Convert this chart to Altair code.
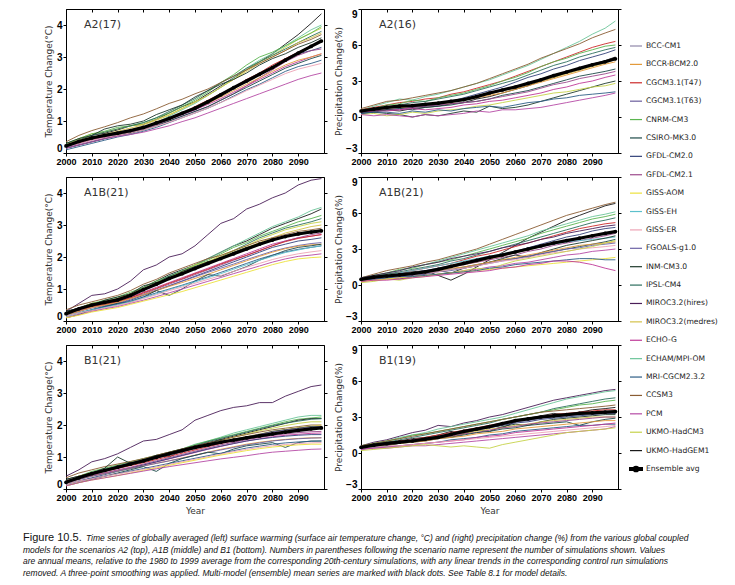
import altair as alt
import pandas as pd

YEARS = [2000, 2005, 2010, 2015, 2020, 2025, 2030, 2035, 2040, 2045, 2050,
         2055, 2060, 2065, 2070, 2075, 2080, 2085, 2090, 2095, 2099]

MODELS = ["BCC-CM1", "BCCR-BCM2.0", "CGCM3.1(T47)", "CGCM3.1(T63)", "CNRM-CM3",
          "CSIRO-MK3.0", "GFDL-CM2.0", "GFDL-CM2.1", "GISS-AOM", "GISS-EH",
          "GISS-ER", "FGOALS-g1.0", "INM-CM3.0", "IPSL-CM4", "MIROC3.2(hires)",
          "MIROC3.2(medres)", "ECHO-G", "ECHAM/MPI-OM", "MRI-CGCM2.3.2", "CCSM3",
          "PCM", "UKMO-HadCM3", "UKMO-HadGEM1"]
MODEL_COLORS = ["#8f86a8", "#e39a3b", "#cc2a2a", "#6a5c9c", "#5bb550",
                "#1d4a48", "#33427a", "#9c4a8c", "#ece13c", "#5cc0cc",
                "#eda3b5", "#6c62a6", "#1e3a2c", "#2c6e5e", "#4a1e58",
                "#d4c24a", "#bf3a98", "#6cc59a", "#2e5e86", "#8a5c33",
                "#b54aa5", "#c6d24a", "#1a1a1a"]
ENSEMBLE_LABEL = "Ensemble avg"

X_TICKS = [2000, 2010, 2020, 2030, 2040, 2050, 2060, 2070, 2080, 2090]
TEMP_TICKS = [0, 1, 2, 3, 4]
PREC_TICKS = [-3, 0, 3, 6, 9]

# ---------------- A2 temperature (17) ----------------
A2_TEMP_ENS = [0.22, 0.36, 0.47, 0.55, 0.62, 0.70, 0.80, 0.94, 1.08, 1.24, 1.40,
               1.60, 1.82, 2.04, 2.25, 2.46, 2.67, 2.90, 3.12, 3.33, 3.50]
A2_TEMP = {
    "UKMO-HadGEM1": [0.30, 0.40, 0.55, 0.62, 0.72, 0.85, 0.90, 1.05, 1.25, 1.45, 1.60, 1.85, 2.10, 2.35, 2.60, 2.85, 3.10, 3.40, 3.70, 4.05, 4.35],
    "UKMO-HadCM3": [0.25, 0.45, 0.60, 0.65, 0.75, 0.85, 0.90, 1.05, 1.20, 1.40, 1.60, 1.80, 2.05, 2.30, 2.60, 2.85, 3.05, 3.30, 3.55, 3.75, 3.90],
    "ECHAM/MPI-OM": [0.20, 0.35, 0.45, 0.50, 0.60, 0.70, 0.80, 0.95, 1.15, 1.35, 1.55, 1.80, 2.05, 2.35, 2.65, 2.90, 3.10, 3.35, 3.60, 3.85, 4.00],
    "CNRM-CM3": [0.30, 0.45, 0.60, 0.68, 0.80, 0.85, 0.95, 1.10, 1.25, 1.45, 1.65, 1.90, 2.20, 2.45, 2.75, 3.00, 3.15, 3.35, 3.55, 3.75, 3.95],
    "IPSL-CM4": [0.25, 0.40, 0.55, 0.65, 0.75, 0.85, 0.95, 1.10, 1.30, 1.50, 1.70, 1.95, 2.20, 2.40, 2.65, 2.85, 3.05, 3.25, 3.45, 3.65, 3.80],
    "MIROC3.2(medres)": [0.25, 0.40, 0.50, 0.58, 0.68, 0.78, 0.88, 1.02, 1.18, 1.38, 1.58, 1.80, 2.05, 2.30, 2.55, 2.80, 3.00, 3.20, 3.45, 3.60, 3.75],
    "CCSM3": [0.35, 0.55, 0.70, 0.82, 0.95, 1.10, 1.22, 1.38, 1.55, 1.68, 1.85, 2.00, 2.20, 2.40, 2.60, 2.80, 3.00, 3.20, 3.40, 3.55, 3.70],
    "INM-CM3.0": [0.30, 0.45, 0.55, 0.75, 0.85, 0.90, 1.00, 1.20, 1.35, 1.50, 1.75, 1.95, 2.15, 2.30, 2.50, 2.75, 2.95, 3.10, 3.30, 3.45, 3.60],
    "CGCM3.1(T47)": [0.25, 0.35, 0.45, 0.55, 0.62, 0.72, 0.80, 0.95, 1.05, 1.25, 1.45, 1.65, 1.85, 2.05, 2.30, 2.50, 2.75, 2.95, 3.15, 3.35, 3.50],
    "GFDL-CM2.0": [0.15, 0.25, 0.35, 0.45, 0.55, 0.65, 0.75, 0.90, 1.05, 1.20, 1.35, 1.55, 1.80, 2.00, 2.25, 2.45, 2.65, 2.90, 3.10, 3.20, 3.30],
    "GFDL-CM2.1": [0.20, 0.30, 0.40, 0.50, 0.55, 0.62, 0.75, 0.88, 1.00, 1.15, 1.30, 1.45, 1.65, 1.85, 2.10, 2.35, 2.60, 2.85, 3.05, 3.20, 3.25],
    "ECHO-G": [0.20, 0.30, 0.42, 0.50, 0.60, 0.68, 0.78, 0.90, 1.05, 1.20, 1.35, 1.52, 1.70, 1.90, 2.10, 2.30, 2.50, 2.70, 2.85, 3.00, 3.10],
    "CSIRO-MK3.0": [0.15, 0.25, 0.35, 0.45, 0.55, 0.62, 0.72, 0.85, 1.00, 1.15, 1.30, 1.45, 1.65, 1.85, 2.05, 2.25, 2.45, 2.65, 2.80, 2.95, 3.05],
    "BCCR-BCM2.0": [0.20, 0.35, 0.45, 0.55, 0.62, 0.70, 0.80, 0.95, 1.10, 1.25, 1.40, 1.55, 1.75, 1.95, 2.15, 2.35, 2.55, 2.75, 2.90, 3.00, 3.10],
    "MRI-CGCM2.3.2": [0.10, 0.20, 0.30, 0.40, 0.50, 0.58, 0.68, 0.80, 0.95, 1.10, 1.25, 1.40, 1.58, 1.78, 1.98, 2.15, 2.35, 2.55, 2.70, 2.80, 2.90],
    "GISS-ER": [0.20, 0.30, 0.40, 0.48, 0.55, 0.63, 0.72, 0.84, 0.96, 1.10, 1.25, 1.40, 1.58, 1.75, 1.95, 2.12, 2.30, 2.48, 2.62, 2.72, 2.80],
    "PCM": [0.15, 0.25, 0.35, 0.45, 0.52, 0.58, 0.65, 0.75, 0.85, 0.98, 1.10, 1.25, 1.40, 1.55, 1.70, 1.85, 2.00, 2.15, 2.30, 2.42, 2.50],
}

# ---------------- A2 precipitation (16) ----------------
A2_PREC_ENS = [0.5, 0.65, 0.8, 0.9, 0.95, 1.05, 1.15, 1.3, 1.45, 1.7, 2.0,
               2.25, 2.5, 2.8, 3.1, 3.45, 3.75, 4.05, 4.35, 4.6, 4.85]
A2_PREC = {
    "ECHAM/MPI-OM": [0.6, 0.9, 1.2, 1.5, 1.4, 1.7, 1.9, 2.2, 2.5, 2.8, 3.1, 3.5, 3.9, 4.3, 4.8, 5.3, 5.8, 6.3, 6.9, 7.4, 8.0],
    "CCSM3": [0.7, 1.0, 1.3, 1.4, 1.6, 1.8, 2.0, 2.2, 2.5, 2.8, 3.2, 3.6, 4.0, 4.4, 4.9, 5.3, 5.7, 6.1, 6.6, 7.0, 7.3],
    "CGCM3.1(T47)": [0.6, 0.8, 1.0, 1.2, 1.3, 1.5, 1.6, 1.9, 2.1, 2.4, 2.7, 3.0, 3.4, 3.8, 4.2, 4.6, 5.0, 5.4, 5.8, 6.1, 6.3],
    "CNRM-CM3": [0.5, 0.7, 1.0, 1.1, 1.4, 1.3, 1.6, 1.8, 2.0, 2.3, 2.6, 3.0, 3.3, 3.7, 4.2, 4.6, 4.9, 5.3, 5.6, 5.9, 6.0],
    "IPSL-CM4": [0.4, 0.6, 0.8, 1.0, 1.2, 1.3, 1.5, 1.7, 1.9, 2.2, 2.5, 2.8, 3.1, 3.5, 3.9, 4.3, 4.6, 5.0, 5.3, 5.6, 5.8],
    "GFDL-CM2.0": [0.3, 0.5, 0.6, 0.7, 0.8, 0.9, 1.0, 1.3, 1.6, 1.9, 2.2, 2.5, 2.9, 3.3, 3.6, 4.0, 4.3, 4.7, 5.0, 5.3, 5.6],
    "UKMO-HadGEM1": [0.4, 0.5, 0.6, 0.5, 0.7, 0.8, 0.9, 1.1, 1.2, 1.5, 1.7, 2.0, 2.3, 2.6, 3.0, 3.3, 3.7, 4.1, 4.4, 4.7, 5.0],
    "MIROC3.2(medres)": [0.5, 0.6, 0.7, 0.8, 0.9, 1.0, 1.1, 1.3, 1.5, 1.7, 1.9, 2.2, 2.4, 2.7, 3.0, 3.3, 3.6, 3.9, 4.2, 4.5, 4.8],
    "BCCR-BCM2.0": [0.6, 0.7, 0.8, 0.8, 0.9, 1.0, 1.1, 1.2, 1.4, 1.6, 1.8, 2.0, 2.3, 2.6, 2.9, 3.2, 3.5, 3.8, 4.1, 4.4, 4.6],
    "CSIRO-MK3.0": [0.3, 0.4, 0.6, 0.7, 0.6, 0.8, 0.9, 1.0, 1.2, 1.3, 1.5, 1.8, 2.0, 2.2, 2.5, 2.8, 3.1, 3.4, 3.6, 3.8, 4.0],
    "GFDL-CM2.1": [0.5, 0.6, 0.7, 0.6, 0.8, 0.9, 1.0, 1.1, 1.2, 1.3, 1.5, 1.7, 1.9, 2.1, 2.4, 2.7, 2.9, 3.2, 3.4, 3.6, 3.8],
    "ECHO-G": [0.4, 0.5, 0.5, 0.6, 0.7, 0.6, 0.7, 0.8, 1.0, 1.1, 1.3, 1.4, 1.6, 1.8, 2.0, 2.3, 2.5, 2.8, 3.0, 3.3, 3.5],
    "INM-CM3.0": [0.3, 0.4, 0.3, 0.2, 0.0, 0.2, 0.1, 0.3, 0.5, 0.4, 0.9, 0.7, 0.8, 1.0, 1.3, 1.6, 1.9, 2.2, 2.5, 2.8, 3.0],
    "UKMO-HadCM3": [0.2, 0.3, 0.1, 0.2, 0.4, 0.3, 0.5, 0.6, 0.7, 0.9, 1.0, 1.2, 1.4, 1.6, 1.8, 2.0, 2.1, 2.3, 2.5, 2.6, 2.8],
    "MRI-CGCM2.3.2": [0.3, 0.4, 0.4, 0.3, 0.5, 0.4, 0.6, 0.5, 0.7, 0.8, 0.9, 0.8, 1.0, 1.2, 1.3, 1.5, 1.6, 1.8, 1.9, 2.0, 2.1],
    "PCM": [0.2, 0.1, 0.2, 0.1, 0.0, 0.2, 0.1, 0.2, 0.3, 0.5, 0.4, 0.6, 0.6, 0.7, 0.8, 1.0, 1.2, 1.4, 1.6, 1.8, 2.0],
}

# ---------------- A1B temperature (21) ----------------
A1B_TEMP_ENS = [0.23, 0.38, 0.50, 0.58, 0.66, 0.80, 0.98, 1.15, 1.33, 1.48, 1.64,
                1.80, 1.95, 2.10, 2.25, 2.40, 2.53, 2.64, 2.72, 2.78, 2.82]
A1B_TEMP = {
    "MIROC3.2(hires)": [0.30, 0.55, 0.80, 0.85, 1.00, 1.25, 1.60, 1.75, 2.00, 2.10, 2.35, 2.70, 3.05, 3.20, 3.50, 3.65, 3.85, 4.00, 4.25, 4.40, 4.45],
    "UKMO-HadGEM1": [0.30, 0.40, 0.55, 0.60, 0.70, 0.85, 1.05, 1.25, 1.45, 1.60, 1.75, 1.95, 2.15, 2.35, 2.50, 2.70, 2.90, 3.05, 3.20, 3.35, 3.50],
    "ECHAM/MPI-OM": [0.20, 0.30, 0.45, 0.55, 0.65, 0.80, 1.00, 1.20, 1.40, 1.58, 1.75, 1.95, 2.15, 2.35, 2.55, 2.75, 2.95, 3.10, 3.25, 3.45, 3.55],
    "CNRM-CM3": [0.25, 0.40, 0.55, 0.65, 0.75, 0.90, 1.05, 1.25, 1.40, 1.55, 1.75, 1.90, 2.10, 2.30, 2.45, 2.65, 2.80, 2.95, 3.10, 3.20, 3.30],
    "IPSL-CM4": [0.25, 0.35, 0.50, 0.60, 0.70, 0.85, 1.00, 1.20, 1.40, 1.55, 1.70, 1.85, 2.00, 2.20, 2.40, 2.60, 2.75, 2.90, 3.00, 3.10, 3.20],
    "UKMO-HadCM3": [0.20, 0.40, 0.55, 0.60, 0.70, 0.85, 1.00, 1.15, 1.35, 1.55, 1.75, 1.85, 2.05, 2.20, 2.35, 2.55, 2.70, 2.85, 2.95, 3.05, 3.10],
    "MIROC3.2(medres)": [0.25, 0.40, 0.50, 0.60, 0.70, 0.85, 1.00, 1.20, 1.35, 1.50, 1.65, 1.85, 2.00, 2.15, 2.30, 2.45, 2.60, 2.75, 2.85, 2.95, 3.00],
    "CCSM3": [0.35, 0.50, 0.60, 0.70, 0.80, 0.95, 1.15, 1.30, 1.50, 1.65, 1.80, 1.95, 2.05, 2.20, 2.35, 2.50, 2.60, 2.70, 2.80, 2.85, 2.90],
    "INM-CM3.0": [0.30, 0.40, 0.50, 0.65, 0.75, 0.85, 1.10, 1.20, 1.30, 1.55, 1.70, 1.85, 1.95, 2.15, 2.30, 2.40, 2.55, 2.65, 2.75, 2.80, 2.85],
    "ECHO-G": [0.20, 0.35, 0.45, 0.55, 0.62, 0.75, 0.90, 1.05, 1.20, 1.35, 1.50, 1.65, 1.80, 1.95, 2.10, 2.25, 2.40, 2.50, 2.60, 2.65, 2.70],
    "GFDL-CM2.1": [0.20, 0.30, 0.45, 0.50, 0.60, 0.72, 0.85, 1.00, 1.15, 1.30, 1.45, 1.60, 1.75, 1.90, 2.05, 2.20, 2.35, 2.50, 2.60, 2.70, 2.75],
    "CGCM3.1(T47)": [0.25, 0.35, 0.45, 0.52, 0.60, 0.72, 0.88, 1.02, 1.18, 1.32, 1.48, 1.62, 1.78, 1.92, 2.05, 2.20, 2.35, 2.48, 2.58, 2.65, 2.70],
    "GFDL-CM2.0": [0.15, 0.25, 0.35, 0.45, 0.55, 0.65, 0.80, 0.95, 1.10, 1.25, 1.40, 1.55, 1.70, 1.85, 2.00, 2.15, 2.30, 2.40, 2.50, 2.55, 2.60],
    "FGOALS-g1.0": [0.20, 0.30, 0.40, 0.48, 0.55, 0.68, 0.82, 0.96, 1.10, 1.24, 1.38, 1.52, 1.65, 1.78, 1.92, 2.05, 2.18, 2.28, 2.36, 2.42, 2.45],
    "BCCR-BCM2.0": [0.20, 0.30, 0.42, 0.50, 0.58, 0.70, 0.82, 0.95, 1.08, 1.20, 1.33, 1.46, 1.60, 1.74, 1.88, 2.02, 2.15, 2.26, 2.34, 2.38, 2.40],
    "CSIRO-MK3.0": [0.10, 0.20, 0.35, 0.45, 0.55, 0.60, 0.75, 0.95, 0.80, 1.00, 1.25, 1.45, 1.40, 1.55, 1.70, 1.90, 2.05, 2.20, 2.30, 2.35, 2.40],
    "MRI-CGCM2.3.2": [0.15, 0.25, 0.35, 0.45, 0.52, 0.62, 0.75, 0.88, 1.00, 1.12, 1.25, 1.38, 1.52, 1.66, 1.80, 1.94, 2.06, 2.16, 2.24, 2.30, 2.35],
    "GISS-EH": [0.15, 0.25, 0.35, 0.42, 0.50, 0.60, 0.72, 0.85, 0.98, 1.10, 1.22, 1.35, 1.48, 1.62, 1.76, 1.90, 2.02, 2.14, 2.22, 2.30, 2.35],
    "GISS-ER": [0.15, 0.25, 0.32, 0.40, 0.48, 0.58, 0.70, 0.82, 0.95, 1.06, 1.18, 1.30, 1.42, 1.55, 1.68, 1.80, 1.92, 2.02, 2.10, 2.16, 2.20],
    "PCM": [0.10, 0.20, 0.30, 0.38, 0.45, 0.55, 0.65, 0.76, 0.88, 1.00, 1.12, 1.24, 1.36, 1.48, 1.60, 1.72, 1.84, 1.94, 2.02, 2.06, 2.10],
    "GISS-AOM": [0.10, 0.18, 0.28, 0.35, 0.42, 0.52, 0.62, 0.72, 0.82, 0.92, 1.04, 1.16, 1.28, 1.40, 1.52, 1.64, 1.76, 1.86, 1.94, 1.98, 2.00],
}

# ---------------- A1B precipitation (21) ----------------
A1B_PREC_ENS = [0.47, 0.65, 0.75, 0.85, 0.95, 1.1, 1.3, 1.55, 1.8, 2.05, 2.3,
                2.5, 2.75, 3.0, 3.25, 3.5, 3.7, 3.9, 4.1, 4.3, 4.45]
A1B_PREC = {
    "CCSM3": [0.6, 0.9, 1.2, 1.4, 1.6, 1.9, 2.1, 2.4, 2.7, 3.0, 3.4, 3.8, 4.2, 4.6, 5.0, 5.4, 5.8, 6.1, 6.4, 6.7, 6.9],
    "UKMO-HadGEM1": [0.5, 0.7, 0.9, 1.0, 1.1, 1.2, 0.8, 0.4, 0.9, 1.5, 2.1, 2.7, 3.3, 3.9, 4.4, 4.9, 5.4, 5.8, 6.2, 6.6, 6.8],
    "ECHAM/MPI-OM": [0.5, 0.8, 1.0, 1.2, 1.5, 1.7, 2.0, 2.3, 2.6, 2.9, 3.2, 3.5, 3.8, 4.1, 4.5, 4.8, 5.1, 5.4, 5.7, 5.9, 6.1],
    "CNRM-CM3": [0.6, 0.8, 1.0, 1.3, 1.4, 1.7, 1.9, 2.1, 2.4, 2.7, 3.0, 3.3, 3.6, 3.9, 4.3, 4.6, 4.9, 5.2, 5.5, 5.7, 5.9],
    "IPSL-CM4": [0.5, 0.7, 0.9, 1.1, 1.3, 1.5, 1.7, 2.0, 2.2, 2.5, 2.8, 3.1, 3.4, 3.7, 4.0, 4.3, 4.6, 4.9, 5.2, 5.4, 5.6],
    "CGCM3.1(T47)": [0.5, 0.7, 0.8, 1.0, 1.2, 1.4, 1.6, 1.8, 2.1, 2.4, 2.6, 2.9, 3.2, 3.5, 3.8, 4.1, 4.4, 4.7, 4.9, 5.1, 5.2],
    "MIROC3.2(hires)": [0.6, 0.8, 1.0, 1.2, 1.5, 1.7, 1.9, 2.2, 2.4, 2.6, 2.8, 3.1, 3.3, 3.5, 3.8, 4.0, 4.3, 4.5, 4.7, 4.9, 5.0],
    "GFDL-CM2.0": [0.4, 0.6, 0.7, 0.9, 1.0, 1.2, 1.4, 1.6, 1.8, 2.0, 2.3, 2.5, 2.8, 3.1, 3.4, 3.7, 4.0, 4.2, 4.5, 4.7, 4.8],
    "MIROC3.2(medres)": [0.5, 0.6, 0.7, 0.8, 1.0, 1.1, 1.3, 1.5, 1.7, 1.9, 2.2, 2.4, 2.7, 2.9, 3.2, 3.4, 3.7, 3.9, 4.1, 4.3, 4.5],
    "GFDL-CM2.1": [0.4, 0.5, 0.7, 0.8, 0.9, 1.1, 1.3, 1.5, 1.7, 1.9, 2.1, 2.3, 2.5, 2.8, 3.0, 3.3, 3.5, 3.7, 3.9, 4.1, 4.3],
    "GISS-EH": [0.5, 0.7, 0.8, 1.0, 1.2, 1.4, 1.6, 1.8, 2.0, 2.2, 2.4, 2.6, 2.8, 3.0, 3.2, 3.4, 3.6, 3.7, 3.8, 3.9, 4.0],
    "INM-CM3.0": [0.4, 0.5, 0.6, 0.5, 0.7, 0.9, 1.2, 1.0, 1.4, 1.6, 1.9, 2.2, 2.5, 2.3, 2.7, 3.0, 3.3, 3.5, 3.7, 3.9, 4.1],
    "CSIRO-MK3.0": [0.3, 0.5, 0.6, 0.8, 0.9, 1.0, 1.2, 1.3, 1.5, 1.7, 1.9, 2.1, 2.2, 2.4, 2.6, 2.8, 3.0, 3.2, 3.4, 3.6, 3.8],
    "BCCR-BCM2.0": [0.5, 0.6, 0.7, 0.8, 0.9, 1.0, 1.2, 1.4, 1.5, 1.7, 1.9, 2.1, 2.3, 2.5, 2.7, 2.9, 3.1, 3.3, 3.4, 3.5, 3.6],
    "FGOALS-g1.0": [0.4, 0.5, 0.6, 0.7, 0.8, 0.9, 1.1, 1.2, 1.4, 1.6, 1.8, 2.0, 2.2, 2.4, 2.6, 2.8, 3.0, 3.1, 3.3, 3.4, 3.5],
    "GISS-ER": [0.5, 0.6, 0.7, 0.8, 0.9, 1.0, 1.1, 1.3, 1.4, 1.6, 1.8, 2.0, 2.1, 2.3, 2.5, 2.7, 2.8, 3.0, 3.1, 3.2, 3.3],
    "PCM": [0.3, 0.4, 0.5, 0.6, 0.7, 0.8, 0.9, 1.0, 1.2, 1.3, 1.5, 1.6, 1.8, 1.9, 2.1, 2.3, 2.5, 2.6, 2.8, 2.9, 3.0],
    "UKMO-HadCM3": [0.2, 0.3, 0.5, 0.4, 0.6, 0.7, 0.9, 1.0, 1.2, 1.4, 1.3, 1.7, 2.0, 2.2, 2.4, 2.6, 2.8, 3.0, 3.2, 3.5, 3.7],
    "GISS-AOM": [0.3, 0.4, 0.5, 0.6, 0.7, 0.8, 0.9, 1.0, 1.1, 1.2, 1.3, 1.4, 1.5, 1.6, 1.7, 1.8, 1.9, 2.0, 2.1, 2.2, 2.3],
    "MRI-CGCM2.3.2": [0.4, 0.5, 0.6, 0.7, 0.7, 0.8, 0.9, 1.0, 1.1, 1.2, 1.4, 1.5, 1.7, 1.8, 1.9, 2.0, 2.1, 2.2, 2.2, 2.1, 2.1],
    "ECHO-G": [0.3, 0.4, 0.4, 0.5, 0.6, 0.7, 0.8, 0.9, 1.0, 1.1, 1.2, 1.4, 1.5, 1.7, 1.8, 2.0, 2.0, 1.9, 1.7, 1.4, 1.2],
}

# ---------------- B1 temperature (21) ----------------
B1_TEMP_ENS = [0.21, 0.35, 0.48, 0.58, 0.68, 0.78, 0.88, 0.99, 1.10, 1.20, 1.30,
               1.38, 1.46, 1.53, 1.60, 1.66, 1.72, 1.78, 1.83, 1.88, 1.91]
B1_TEMP = {
    "MIROC3.2(hires)": [0.40, 0.60, 0.85, 0.95, 1.10, 1.30, 1.50, 1.55, 1.70, 1.85, 2.15, 2.30, 2.45, 2.55, 2.60, 2.70, 2.70, 2.90, 3.05, 3.20, 3.25],
    "ECHAM/MPI-OM": [0.20, 0.35, 0.45, 0.55, 0.65, 0.75, 0.90, 1.00, 1.15, 1.25, 1.40, 1.50, 1.62, 1.75, 1.85, 1.95, 2.05, 2.15, 2.25, 2.30, 2.30],
    "CNRM-CM3": [0.25, 0.40, 0.55, 0.65, 0.75, 0.85, 0.95, 1.05, 1.15, 1.25, 1.38, 1.50, 1.60, 1.70, 1.80, 1.90, 2.00, 2.10, 2.18, 2.22, 2.25],
    "UKMO-HadGEM1": [0.30, 0.40, 0.50, 0.60, 0.70, 0.80, 0.90, 1.05, 1.15, 1.25, 1.35, 1.45, 1.55, 1.65, 1.75, 1.85, 1.95, 2.05, 2.15, 2.20, 2.20],
    "IPSL-CM4": [0.25, 0.35, 0.50, 0.62, 0.72, 0.82, 0.92, 1.02, 1.12, 1.22, 1.35, 1.48, 1.58, 1.68, 1.78, 1.88, 1.98, 2.06, 2.12, 2.18, 2.20],
    "UKMO-HadCM3": [0.20, 0.40, 0.50, 0.60, 0.68, 0.78, 0.88, 0.98, 1.08, 1.18, 1.30, 1.42, 1.52, 1.62, 1.72, 1.82, 1.90, 1.98, 2.05, 2.10, 2.10],
    "CCSM3": [0.35, 0.50, 0.60, 0.70, 0.78, 0.86, 0.95, 1.05, 1.15, 1.25, 1.34, 1.44, 1.52, 1.62, 1.70, 1.78, 1.85, 1.90, 1.95, 2.00, 2.00],
    "MIROC3.2(medres)": [0.25, 0.40, 0.50, 0.58, 0.68, 0.78, 0.88, 0.98, 1.08, 1.18, 1.28, 1.38, 1.48, 1.56, 1.64, 1.72, 1.80, 1.86, 1.92, 1.96, 2.00],
    "INM-CM3.0": [0.30, 0.40, 0.50, 0.65, 1.00, 0.80, 0.90, 1.05, 1.00, 1.20, 1.30, 1.40, 1.55, 1.45, 1.60, 1.70, 1.80, 1.85, 1.90, 1.95, 1.95],
    "CGCM3.1(T63)": [0.25, 0.38, 0.48, 0.56, 0.66, 0.76, 0.86, 0.96, 1.06, 1.16, 1.26, 1.36, 1.46, 1.55, 1.63, 1.71, 1.78, 1.84, 1.89, 1.93, 1.95],
    "CGCM3.1(T47)": [0.25, 0.35, 0.45, 0.55, 0.64, 0.73, 0.82, 0.92, 1.02, 1.12, 1.22, 1.32, 1.42, 1.51, 1.59, 1.67, 1.74, 1.80, 1.85, 1.88, 1.90],
    "GFDL-CM2.1": [0.20, 0.30, 0.42, 0.50, 0.60, 0.68, 0.78, 0.88, 0.98, 1.08, 1.18, 1.28, 1.38, 1.46, 1.54, 1.61, 1.67, 1.72, 1.76, 1.79, 1.80],
    "ECHO-G": [0.20, 0.32, 0.42, 0.50, 0.58, 0.66, 0.75, 0.84, 0.94, 1.04, 1.14, 1.24, 1.33, 1.42, 1.50, 1.57, 1.63, 1.68, 1.71, 1.74, 1.75],
    "GFDL-CM2.0": [0.15, 0.25, 0.35, 0.45, 0.55, 0.65, 0.75, 0.85, 0.95, 1.05, 1.15, 1.25, 1.34, 1.42, 1.50, 1.56, 1.61, 1.65, 1.68, 1.70, 1.70],
    "BCCR-BCM2.0": [0.20, 0.30, 0.40, 0.48, 0.56, 0.64, 0.72, 0.80, 0.88, 0.97, 1.06, 1.15, 1.24, 1.32, 1.40, 1.46, 1.51, 1.55, 1.58, 1.60, 1.60],
    "FGOALS-g1.0": [0.20, 0.30, 0.40, 0.48, 0.56, 0.64, 0.72, 0.80, 0.88, 0.96, 1.05, 1.14, 1.22, 1.30, 1.38, 1.44, 1.50, 1.54, 1.57, 1.59, 1.60],
    "CSIRO-MK3.0": [0.10, 0.20, 0.30, 0.40, 0.50, 0.60, 0.70, 0.55, 0.80, 0.95, 1.05, 1.15, 1.10, 1.25, 1.35, 1.40, 1.45, 1.30, 1.45, 1.50, 1.50],
    "MRI-CGCM2.3.2": [0.15, 0.25, 0.33, 0.40, 0.48, 0.56, 0.64, 0.72, 0.80, 0.88, 0.96, 1.04, 1.12, 1.20, 1.28, 1.34, 1.40, 1.44, 1.47, 1.49, 1.50],
    "GISS-ER": [0.15, 0.25, 0.32, 0.40, 0.47, 0.54, 0.61, 0.69, 0.77, 0.85, 0.93, 1.01, 1.09, 1.17, 1.24, 1.30, 1.35, 1.39, 1.42, 1.44, 1.45],
    "GISS-AOM": [0.10, 0.20, 0.28, 0.35, 0.42, 0.50, 0.58, 0.66, 0.74, 0.82, 0.90, 0.98, 1.06, 1.13, 1.20, 1.26, 1.31, 1.35, 1.38, 1.40, 1.40],
    "PCM": [0.10, 0.20, 0.28, 0.35, 0.42, 0.49, 0.56, 0.63, 0.70, 0.76, 0.82, 0.88, 0.94, 0.99, 1.04, 1.10, 1.15, 1.18, 1.21, 1.24, 1.25],
}

# ---------------- B1 precipitation (19) ----------------
B1_PREC_ENS = [0.47, 0.65, 0.78, 0.9, 1.0, 1.15, 1.3, 1.55, 1.8, 2.0, 2.2,
               2.45, 2.7, 2.85, 3.0, 3.1, 3.2, 3.3, 3.35, 3.4, 3.45]
B1_PREC = {
    "MIROC3.2(hires)": [0.6, 0.9, 1.1, 1.4, 1.7, 1.9, 2.3, 2.2, 2.5, 2.7, 3.0, 3.2, 3.5, 3.8, 4.1, 4.4, 4.6, 4.8, 5.0, 5.2, 5.3],
    "ECHAM/MPI-OM": [0.5, 0.8, 1.0, 1.3, 1.5, 1.7, 2.0, 2.2, 2.4, 2.6, 2.8, 3.0, 3.3, 3.6, 3.9, 4.2, 4.5, 4.7, 4.9, 5.1, 5.2],
    "IPSL-CM4": [0.5, 0.7, 0.9, 1.1, 1.3, 1.5, 1.7, 1.9, 2.1, 2.3, 2.5, 2.8, 3.0, 3.2, 3.4, 3.7, 3.9, 4.1, 4.3, 4.5, 4.6],
    "CNRM-CM3": [0.6, 0.8, 1.0, 1.2, 1.5, 1.6, 1.8, 2.0, 2.2, 2.4, 2.6, 2.8, 3.0, 3.2, 3.4, 3.6, 3.8, 4.0, 4.1, 4.3, 4.4],
    "CCSM3": [0.6, 0.8, 1.0, 1.2, 1.4, 1.6, 1.8, 2.0, 2.2, 2.4, 2.6, 2.8, 3.0, 3.2, 3.4, 3.5, 3.6, 3.7, 3.8, 3.9, 4.0],
    "UKMO-HadGEM1": [0.5, 0.7, 0.9, 1.0, 1.2, 1.3, 1.5, 1.8, 1.6, 2.0, 2.3, 2.1, 2.6, 2.9, 3.1, 3.3, 3.2, 3.4, 3.6, 3.7, 3.8],
    "CGCM3.1(T47)": [0.5, 0.7, 0.8, 1.0, 1.1, 1.3, 1.5, 1.7, 1.9, 2.1, 2.3, 2.5, 2.7, 2.9, 3.0, 3.2, 3.3, 3.4, 3.5, 3.6, 3.6],
    "CGCM3.1(T63)": [0.5, 0.6, 0.8, 0.9, 1.1, 1.2, 1.4, 1.6, 1.8, 2.0, 2.2, 2.4, 2.6, 2.7, 2.9, 3.0, 3.1, 3.2, 3.3, 3.4, 3.4],
    "GFDL-CM2.0": [0.4, 0.5, 0.7, 0.8, 1.0, 1.1, 1.3, 1.5, 1.7, 1.9, 2.1, 2.3, 2.5, 2.6, 2.8, 2.9, 3.0, 3.1, 3.2, 3.3, 3.3],
    "INM-CM3.0": [0.4, 0.6, 0.7, 0.9, 1.0, 1.2, 1.4, 1.3, 1.6, 1.9, 1.8, 2.2, 2.4, 2.3, 2.6, 2.8, 2.9, 3.0, 3.1, 3.2, 3.2],
    "MIROC3.2(medres)": [0.5, 0.6, 0.8, 0.9, 1.0, 1.1, 1.3, 1.4, 1.6, 1.8, 2.0, 2.1, 2.3, 2.4, 2.6, 2.7, 2.8, 2.9, 3.0, 3.0, 3.0],
    "GFDL-CM2.1": [0.4, 0.6, 0.7, 0.8, 1.0, 1.1, 1.2, 1.4, 1.6, 1.7, 1.9, 2.1, 2.2, 2.4, 2.5, 2.6, 2.7, 2.8, 2.9, 3.0, 3.0],
    "CSIRO-MK3.0": [0.3, 0.5, 0.6, 0.8, 0.9, 1.0, 1.2, 1.3, 1.5, 1.7, 1.8, 2.0, 2.1, 2.3, 2.4, 2.5, 2.6, 2.3, 2.6, 2.8, 2.9],
    "BCCR-BCM2.0": [0.5, 0.6, 0.7, 0.8, 0.9, 1.0, 1.2, 1.3, 1.4, 1.6, 1.7, 1.8, 2.0, 2.1, 2.2, 2.3, 2.4, 2.5, 2.6, 2.7, 2.7],
    "MRI-CGCM2.3.2": [0.4, 0.5, 0.5, 0.6, 0.7, 0.8, 0.9, 1.1, 1.2, 1.3, 1.5, 1.6, 1.8, 1.9, 2.0, 2.1, 2.2, 2.3, 2.3, 2.4, 2.4],
    "ECHO-G": [0.3, 0.4, 0.5, 0.6, 0.7, 0.8, 0.9, 1.0, 1.1, 1.3, 1.4, 1.5, 1.7, 1.8, 1.9, 2.0, 2.1, 2.2, 2.3, 2.4, 2.5],
    "GISS-ER": [0.4, 0.5, 0.6, 0.6, 0.7, 0.8, 0.9, 1.0, 1.1, 1.2, 1.3, 1.4, 1.5, 1.6, 1.7, 1.8, 1.9, 2.0, 2.1, 2.2, 2.3],
    "PCM": [0.3, 0.4, 0.4, 0.5, 0.6, 0.6, 0.7, 0.8, 0.9, 1.0, 1.1, 1.2, 1.3, 1.4, 1.5, 1.6, 1.7, 1.8, 1.9, 2.0, 2.2],
    "UKMO-HadCM3": [0.2, 0.3, 0.4, 0.5, 0.6, 0.7, 0.6, 0.5, 0.6, 0.5, 0.4, 0.7, 0.9, 1.1, 1.3, 1.5, 1.7, 1.8, 1.9, 2.0, 2.1],
}

CAPTION_HEAD = "Figure 10.5."
CAPTION_LINES = [
    "Time series of globally averaged (left) surface warming (surface air temperature change, °C) and (right) precipitation change (%) from the various global coupled",
    "models for the scenarios A2 (top), A1B (middle) and B1 (bottom). Numbers in parentheses following the scenario name represent the number of simulations shown. Values",
    "are annual means, relative to the 1980 to 1999 average from the corresponding 20th-century simulations, with any linear trends in the corresponding control run simulations",
    "removed. A three-point smoothing was applied. Multi-model (ensemble) mean series are marked with black dots. See Table 8.1 for model details.",
]

TICKFONT = "Liberation Sans, Arial, sans-serif"
PLAIN = "DejaVu Sans, Verdana, sans-serif"
CAPTION_FONT = "Liberation Sans, Arial, sans-serif"


def long_df(series):
    rows = []
    for name, vals in series.items():
        assert len(vals) == len(YEARS), (name, len(vals))
        for yr, v in zip(YEARS, vals):
            rows.append({"model": name, "year": yr, "value": v})
    return pd.DataFrame(rows)


def panel(series, ens, label, is_temp, bottom_row):
    assert len(ens) == len(YEARS)
    dom = [0, 4.5] if is_temp else [-3, 9]
    ticks = TEMP_TICKS if is_temp else PREC_TICKS
    ytitle = "Temperature  Change(°C)" if is_temp else "Precipitation  Change(%)"
    xs = alt.Scale(domain=[2000, 2100], nice=False, zero=False)
    ys = alt.Scale(domain=dom, nice=False, zero=False)

    xb_kwargs = dict(orient="bottom", values=X_TICKS, format="d", labelFont=TICKFONT,
                     labelFontSize=9, labelFontWeight="bold", labelColor="black",
                     labelPadding=1, labelFlush=False, tickSize=3)
    if bottom_row:
        xb = alt.Axis(title="Year", titleFont=PLAIN, titleFontSize=9,
                      titleFontWeight="normal", titleColor="#333", titlePadding=4,
                      **xb_kwargs)
    else:
        xb = alt.Axis(title=None, **xb_kwargs)
    yl = alt.Axis(orient="left", values=ticks, labelFont=TICKFONT, labelFontSize=10,
                  labelFontWeight="bold", labelColor="black", labelPadding=1,
                  tickSize=3, labelFlush=True, title=ytitle, titleFont=PLAIN,
                  titleFontSize=9, titleFontWeight="normal", titleColor="#333",
                  titlePadding=3 if is_temp else 2)
    xt = alt.Axis(orient="top", values=X_TICKS, labels=False, tickSize=3,
                  domain=False, offset=-3, title=None)
    yr = alt.Axis(orient="right", values=ticks, labels=False, tickSize=3, title=None)

    df = long_df(series)
    edf = pd.DataFrame({"year": YEARS, "value": ens})

    models = alt.Chart(df).mark_line(strokeWidth=0.9).encode(
        x=alt.X("year:Q", scale=xs, axis=xb),
        y=alt.Y("value:Q", scale=ys, axis=yl),
        color=alt.Color("model:N", scale=alt.Scale(domain=MODELS, range=MODEL_COLORS),
                        legend=None),
    )
    ens_line = alt.Chart(edf).mark_line(color="black", strokeWidth=3.2).encode(
        x=alt.X("year:Q", scale=xs, axis=xt),
        y=alt.Y("value:Q", scale=ys, axis=yr),
    )
    ens_pts = alt.Chart(edf).mark_circle(color="black", size=14, opacity=1).encode(
        x=alt.X("year:Q", scale=xs, axis=None),
        y=alt.Y("value:Q", scale=ys, axis=None),
    )
    lab = alt.Chart(pd.DataFrame({"t": [label]})).mark_text(
        align="left", baseline="middle", font=PLAIN, fontSize=11, color="#333"
    ).encode(x=alt.value(18), y=alt.value(16), text="t:N")
    return alt.layer(models, ens_line, ens_pts, lab).resolve_axis(
        x="independent", y="independent")


def legend_layers():
    names = MODELS + [ENSEMBLE_LABEL]
    ldf = pd.DataFrame({"name": names, "idx": list(range(len(names)))})
    mdf = ldf[ldf["name"] != ENSEMBLE_LABEL]
    edf = ldf[ldf["name"] == ENSEMBLE_LABEL]
    ly = alt.Y("idx:Q", scale=alt.Scale(domain=[0, len(names) - 1], range=[37, 460]),
               axis=None)
    rules = alt.Chart(mdf).mark_rule(strokeWidth=1.2).encode(
        x=alt.value(269), x2=alt.value(281), y=ly,
        color=alt.Color("name:N", scale=alt.Scale(domain=MODELS, range=MODEL_COLORS),
                        legend=None),
    )
    erule = alt.Chart(edf).mark_rule(strokeWidth=4, color="black").encode(
        x=alt.value(268), x2=alt.value(282), y=ly)
    edot = alt.Chart(edf).mark_circle(size=45, color="black", opacity=1).encode(
        x=alt.value(275), y=ly)
    texts = alt.Chart(ldf).mark_text(align="left", baseline="middle", font=PLAIN,
                                     fontSize=7.6, color="#222").encode(
        x=alt.value(285), y=ly, text="name:N")
    return [rules, erule, edot, texts]


def caption_layers():
    layers = []
    ys = [193, 204.5, 216, 227.5]
    head = alt.Chart(pd.DataFrame({"t": [CAPTION_HEAD]})).mark_text(
        align="left", baseline="middle", font=CAPTION_FONT, fontSize=11, color="#111"
    ).encode(x=alt.value(-43), y=alt.value(ys[0]), text="t:N")
    layers.append(head)
    for i, line in enumerate(CAPTION_LINES):
        xpos = 20 if i == 0 else -43
        layers.append(
            alt.Chart(pd.DataFrame({"t": [line]})).mark_text(
                align="left", baseline="middle", font=CAPTION_FONT, fontSize=8.5,
                fontStyle="italic", color="#111"
            ).encode(x=alt.value(xpos), y=alt.value(ys[i]), text="t:N")
        )
    return layers


W_L, W_R, H = 258, 257, 144

t1 = panel(A2_TEMP, A2_TEMP_ENS, "A2(17)", True, False).properties(width=W_L, height=H)
p1_core = panel(A2_PREC, A2_PREC_ENS, "A2(16)", False, False)
p1 = alt.layer(p1_core, *legend_layers()).resolve_scale(y="independent").properties(
    width=W_R, height=H)
t2 = panel(A1B_TEMP, A1B_TEMP_ENS, "A1B(21)", True, False).properties(width=W_L, height=H)
p2 = panel(A1B_PREC, A1B_PREC_ENS, "A1B(21)", False, False).properties(width=W_R, height=H)
t3_core = panel(B1_TEMP, B1_TEMP_ENS, "B1(21)", True, True)
t3 = alt.layer(t3_core, *caption_layers()).properties(width=W_L, height=H)
p3 = panel(B1_PREC, B1_PREC_ENS, "B1(19)", False, True).properties(width=W_R, height=H)

chart = alt.ConcatChart(
    concat=[t1, p1, t2, p2, t3, p3],
    columns=2,
    spacing={"row": 24, "column": 37},
    bounds="flush",
).properties(
    padding={"left": 14, "top": 0, "right": 2, "bottom": 0},
    background="white",
).configure_view(
    stroke="black", strokeWidth=1
).configure_axis(
    grid=False, domainColor="black", domainWidth=1, tickColor="black", tickWidth=1
)

chart.save("out.html", embed_options={"renderer": "svg", "actions": False})
